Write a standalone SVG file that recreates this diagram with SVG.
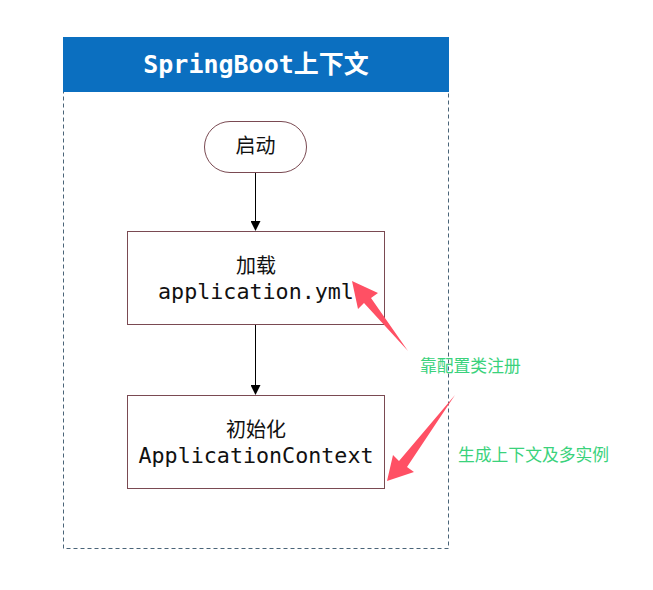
<svg xmlns="http://www.w3.org/2000/svg" width="653" height="590" viewBox="0 0 653 590">
<defs>
<style>
.node{fill:#ffffff;stroke:#7a4a52;stroke-width:1}
.cjk{font-family:"Noto Sans CJK SC","Noto Sans",sans-serif;font-size:20px;fill:#111}
.mono{font-family:"DejaVu Sans Mono","Liberation Mono",monospace;font-size:21.7px;fill:#111}
.note{font-family:"Noto Sans CJK SC",sans-serif;font-size:16.8px;fill:#3ad27c}
.conn{stroke:#000;stroke-width:1;fill:none}
.red{fill:#ff5064}
</style>
<marker id="ah" markerWidth="10" markerHeight="10" refX="9" refY="5" orient="auto" markerUnits="userSpaceOnUse">
<path d="M0,0 L10,5 L0,10 Z" fill="#000"/>
</marker>
</defs>
<rect width="653" height="590" fill="#ffffff"/>
<g id="container">
<rect x="63.5" y="37.5" width="385" height="511" fill="none" stroke="#4a6478" stroke-width="1" stroke-dasharray="4 3"/>
<rect x="63" y="37" width="386" height="55" fill="#0b6fc0"/>
<text x="256" y="73" text-anchor="middle" font-family="'DejaVu Sans Mono','Noto Sans CJK SC',monospace" font-weight="bold" font-size="25" fill="#ffffff">SpringBoot上下文</text>
</g>
<g id="connectors">
<line class="conn" x1="255.5" y1="172" x2="255.5" y2="230" marker-end="url(#ah)"/>
<line class="conn" x1="255.5" y1="324" x2="255.5" y2="394" marker-end="url(#ah)"/>
</g>
<g id="start">
<rect class="node" x="204.5" y="121.5" width="102" height="51" rx="25.5"/>
<text class="cjk" x="255.5" y="153" text-anchor="middle">启动</text>
</g>
<g id="load">
<rect class="node" x="127.5" y="231.5" width="257" height="93"/>
<text class="cjk" x="256" y="273" text-anchor="middle">加载</text>
<text class="mono" x="256" y="299" text-anchor="middle">application.yml</text>
</g>
<g id="init">
<rect class="node" x="127.5" y="395.5" width="257" height="93"/>
<text class="cjk" x="256" y="437" text-anchor="middle">初始化</text>
<text class="mono" x="256" y="463" text-anchor="middle">ApplicationContext</text>
</g>
<g id="callout1">
<polygon class="red" points="352,281 378,293 371,298 408,351 364,303 358,309"/>
<text class="note" x="420" y="372">靠配置类注册</text>
</g>
<g id="callout2">
<polygon class="red" points="387,481 393,455 399,461 455,395 407,467 414,472"/>
<text class="note" x="458" y="461">生成上下文及多实例</text>
</g>
</svg>
